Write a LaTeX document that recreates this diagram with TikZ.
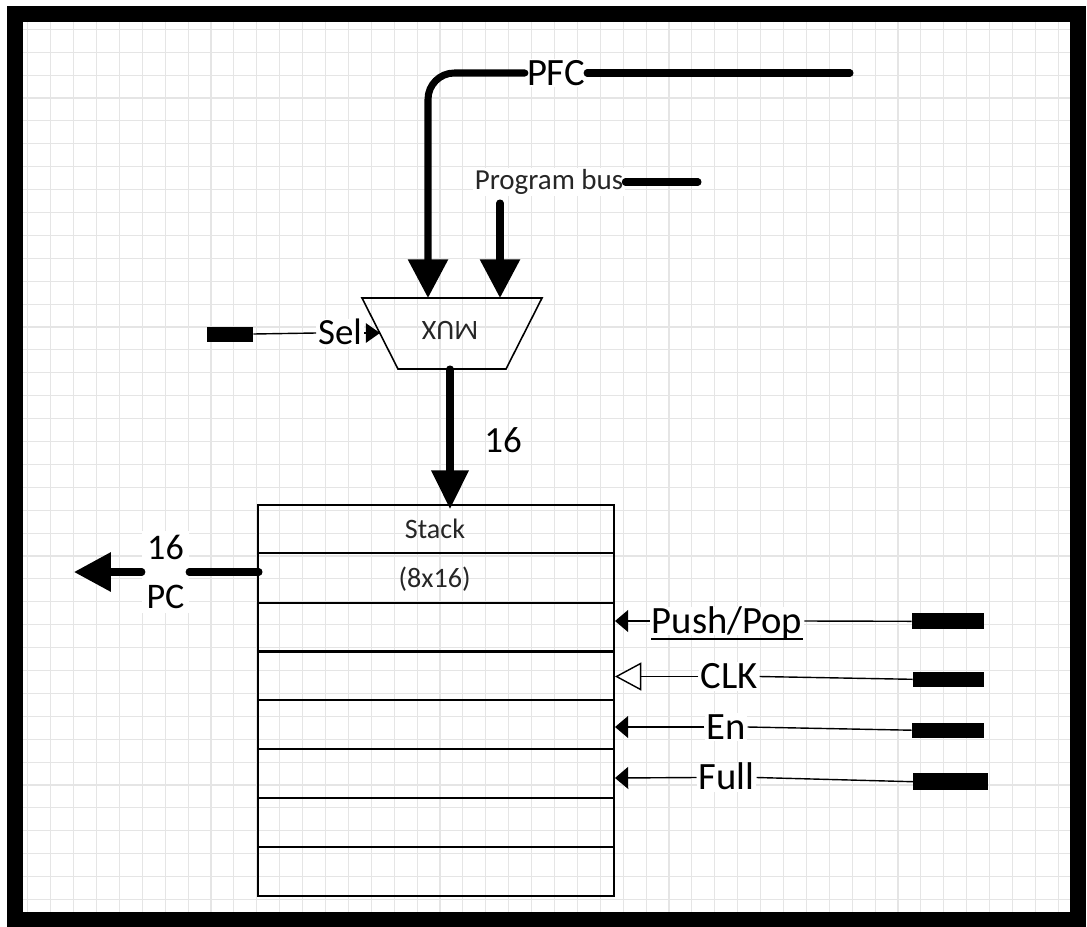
\documentclass[tikz,border=0pt]{standalone}
\usepackage{fontspec}
\setmainfont{Carlito}
\usetikzlibrary{arrows.meta}
\begin{document}
\begin{tikzpicture}[x=0.02cm,y=-0.02cm,
  bus/.style={line width=4pt, line cap=round},
  sig/.style={line width=0.8pt},
  thinbox/.style={line width=0.9pt},
  lbl/.style={fill=white, inner sep=1pt, text height=14pt, text depth=0pt, font=\fontsize{22}{24}\selectfont},
  term/.style={fill=black, inner sep=0pt, minimum height=0.32cm},
  bighead/.style={-{Triangle[length=22pt,width=22pt]}},
  smallhead/.style={-{Triangle[length=7.5pt,width=12.5pt]}},
  gridline/.style={line width=0.6pt, color=black!10}]
\useasboundingbox (0,0) rectangle (1087,926);
% grid
\begin{scope}
\clip (15,14) rectangle (1078,920);
\foreach \i in {0,...,46} \draw[gridline] (27.8+22.9*\i,14) -- (27.8+22.9*\i,920);
\foreach \i in {0,...,40} \draw[gridline] (15,6.4+22.9*\i) -- (1078,6.4+22.9*\i);
\end{scope}
% frame
\draw[line width=9pt] (15,14) rectangle (1078,920);

% MUX
\coordinate (m1) at (362,298);
\coordinate (m2) at (542,298);
\coordinate (m3) at (506,369);
\coordinate (m4) at (398,369);
\draw[line width=0.9pt] (m1) -- (m2) -- (m3) -- (m4) -- cycle;
\node[rotate=180, font=\fontsize{16}{18}\selectfont, text=black!85] (muxlbl) at (450,330) {MUX};
\coordinate (muxin1) at (428,298);
\coordinate (muxin2) at (500,298);
\coordinate (selin) at (380,333);
\coordinate (muxout) at (450,369);

% PFC
\coordinate (pfcend) at (850,73);
\node[lbl, text height=13.8pt, font=\fontsize{22}{24}\selectfont] (pfclbl) at (556,73) {PFC};
\draw[bus] (pfcend) -- (pfclbl.east);
\draw[bus, bighead, rounded corners=15pt] (pfclbl.west) -| (muxin1);

% Program bus
\node[fill=white, inner sep=1pt, font=\fontsize{16.5}{18}\selectfont, text=black!85] (pblbl) at (549,182) {Program bus};
\coordinate (pbend) at (698,182);
\coordinate (pbtop) at (500,203);
\draw[bus] (pblbl.east) -- (pbend);
\draw[bus, bighead] (pbtop) -- (muxin2);

% Sel
\node[term, minimum width=0.92cm, minimum height=0.30cm] (selbox) at (230,334) {};
\node[lbl, text height=13.5pt, font=\fontsize{21}{24}\selectfont] (sellbl) at (340,333) {Sel};
\draw[sig] (selbox.east) -- (sellbl.west);
\draw[sig, -{Triangle[length=8pt,width=11pt]}] (sellbl.east) -- (selin);

% Stack
\node[draw, thinbox, minimum width=7.12cm, minimum height=7.82cm, inner sep=0pt] (stack) at (436,700.5) {};
\foreach \y in {553,603,700,749,798,847} \draw[thinbox] (258,\y) -- (614,\y);
\draw[line width=1.7pt] (258,651) -- (614,651);
\node[font=\fontsize{16}{18}\selectfont, text=black!85] (stacklbl) at (435,529) {Stack};
\node[font=\fontsize{16}{18}\selectfont, text=black!85] (sizelbl) at (434.6,579) {(8x16)};

% MUX -> stack
\coordinate (stacktop) at (450,509);
\draw[bus, -{Triangle[length=22pt,width=20.5pt]}] (muxout) -- (stacktop);
\node[font=\fontsize{21}{24}\selectfont] (w16) at (503,440) {16};

% PC output
\coordinate (pcout) at (259,572);
\coordinate (pctip) at (74,572);
\node[fill=white, inner sep=2.5pt, align=center, font=\fontsize{20.5}{28}\selectfont] (pclbl) at (165.5,572) {16\\PC};
\draw[bus] (pcout) -- (pclbl.east);
\draw[bus, -{Triangle[length=21pt,width=21.5pt]}] (pclbl.west) -- (pctip);

% control inputs
\coordinate (pushin) at (615,621);
\coordinate (clkin) at (615,676.5);
\coordinate (enin) at (615,727);
\coordinate (fullin) at (615,778);

\node[term, minimum width=1.44cm] (pushbox) at (948,621.3) {};
\node[lbl] (pushlbl) at (727,621) {Push/Pop};
\draw[line width=1pt] ([xshift=1pt,yshift=-3.2pt]pushlbl.base west) -- ([xshift=-1pt,yshift=-3.2pt]pushlbl.base east);
\draw[sig] (pushbox.west) -- (pushlbl.east);
\draw[sig, smallhead] (pushlbl.west) -- (pushin);

\node[term, minimum width=1.42cm, minimum height=0.30cm] (clkbox) at (948.5,679.3) {};
\node[lbl] (clklbl) at (729,676.5) {CLK};
\draw[sig] (clkbox.west) -- (clklbl.east);
\draw[sig, -{Triangle[open, fill=white, length=15pt, width=16pt]}] (clklbl.west) -- (clkin);

\node[term, minimum width=1.44cm, minimum height=0.30cm] (enbox) at (948,730.2) {};
\node[lbl] (enlbl) at (726,727) {En};
\draw[sig] (enbox.west) -- (enlbl.east);
\draw[sig, smallhead] (enlbl.west) -- (enin);

\node[term, minimum width=1.49cm, minimum height=0.34cm] (fullbox) at (950.5,781.7) {};
\node[lbl] (fulllbl) at (726.5,777.5) {Full};
\draw[sig] (fullbox.west) -- (fulllbl.east);
\draw[sig, smallhead] (fulllbl.west) -- (fullin);
\end{tikzpicture}
\end{document}
